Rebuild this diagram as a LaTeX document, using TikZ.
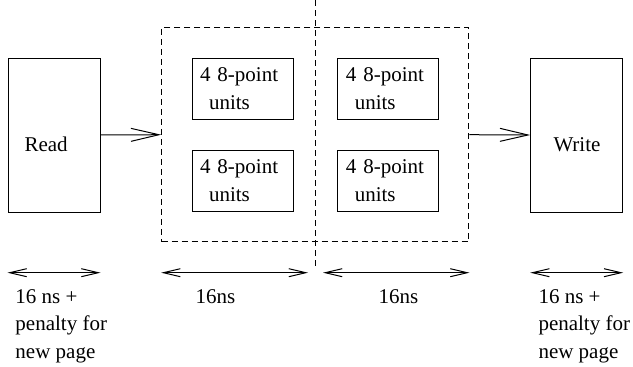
\documentclass[tikz,border=0pt]{standalone}
\usepackage{fontspec}
\setmainfont{Liberation Serif}
\usetikzlibrary{arrows.meta}
\begin{document}
\begin{tikzpicture}[x=1pt,y=-1pt,line width=1pt,
  txt/.style={font=\fontsize{21}{27.5}\selectfont,inner sep=0pt},
  stagebox/.style={draw,minimum width=92pt,minimum height=154pt,inner sep=0pt},
  unitbox/.style={draw,minimum width=101pt,minimum height=61pt,inner xsep=8pt,
    inner ysep=0pt,text width=85pt,align=left,font=\fontsize{21}{27.5}\selectfont},
  pipe/.style={dash pattern=on 6pt off 4pt},
  flow/.style={-{Straight Barb[length=28pt,width=13pt]}},
  dim/.style={{Straight Barb[length=17pt,width=8pt]}-{Straight Barb[length=17pt,width=8pt]}}]
\useasboundingbox (0,0) rectangle (633,367);

% read and write stages
\node[stagebox] (read) at (54,135) {};
\node[txt,anchor=base west] (readlbl) at (24,151) {Read};
\node[stagebox] (write) at (576.7,135) {};
\node[txt,anchor=base west] (writelbl) at (553,151) {Write};

% compute pipeline: two halves of 8-point units
\node[draw,pipe,minimum width=307.3pt,minimum height=214pt,inner sep=0pt] (stage) at (315.3,134.7) {};
\coordinate (divtop) at (315.3,0);
\coordinate (divbot) at (315.3,267);
\draw[pipe] (divtop) -- (divbot);

\node[unitbox] (u1) at (242.5,88.7) {4 8-point\\\hspace*{9pt}units};
\node[unitbox] (u2) at (242.5,180.5) {4 8-point\\\hspace*{9pt}units};
\node[unitbox] (u3) at (388.3,88.7) {4 8-point\\\hspace*{9pt}units};
\node[unitbox] (u4) at (388.3,180.5) {4 8-point\\\hspace*{9pt}units};

% data flow
\draw[flow] (read.east) -- (stage.west);
\draw[flow] (stage.east) -- (write.west);

% timing
\coordinate (dimy) at (0,272.7);
\coordinate (m1) at (308,272.7);
\coordinate (m2) at (323,272.7);
\draw[dim] (read.west |- dimy) -- (read.east |- dimy);
\draw[dim] (stage.west |- dimy) -- (m1);
\draw[dim] (m2) -- (stage.east |- dimy);
\draw[dim] (write.west |- dimy) -- (write.east |- dimy);

\node[txt,anchor=north west,align=left] (t1) at (15,289) {16 ns +\\penalty for\\new page};
\node[txt,anchor=base west] (t2) at (195,303) {16ns};
\node[txt,anchor=base west] (t3) at (378,303) {16ns};
\node[txt,anchor=north west,align=left] (t4) at (538,289) {16 ns +\\penalty for\\new page};
\end{tikzpicture}
\end{document}
